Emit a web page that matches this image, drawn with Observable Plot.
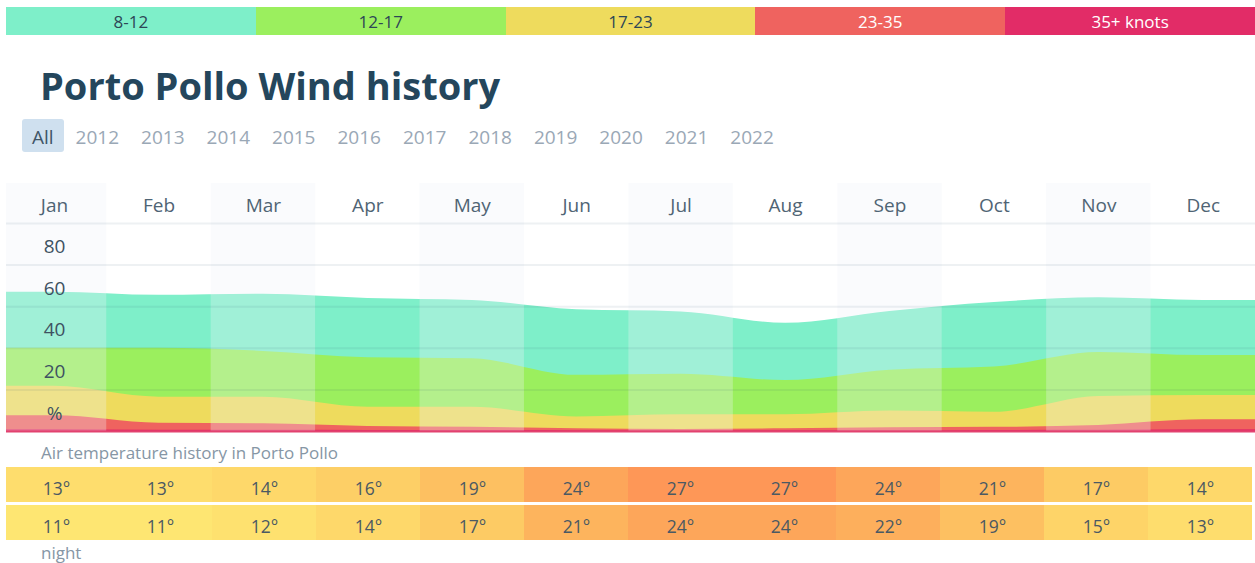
<!DOCTYPE html>
<html>
<head>
<meta charset="utf-8">
<script src="https://cdn.jsdelivr.net/npm/d3@7"></script>
<script src="https://cdn.jsdelivr.net/npm/@observablehq/plot@0.6"></script>
<style>
  body { margin: 0; background: #fff; font-family: "Open Sans", sans-serif; }
  #page { position: relative; width: 1255px; height: 563px; overflow: hidden; background: #fff; }
  #legend { position: absolute; left: 6px; top: 7px; width: 1249px; height: 28px; display: flex; overflow: hidden; }
  #legend div { flex: 1 1 0; text-align: center; line-height: 30px; font-size: 17px; }
  #title { position: absolute; left: 40px; top: 66px; font-size: 38px; line-height: 38px; font-weight: 700; color: #24465c; white-space: nowrap; }
  #years { position: absolute; left: 22px; top: 119px; height: 33px; display: flex; }
  #years div { height: 33px; line-height: 36px; padding: 0 10px; margin-right: 2px; font-size: 19px; color: #9aa8b6; border-radius: 3px; overflow: hidden; }
  #years div.on { background: #cfe0ef; color: #3f5668; }
  .clip { position: absolute; left: 6px; width: 1249px; overflow: hidden; }
  #wind { top: 183px; height: 250px; }
  #temp { top: 467px; height: 73px; }
  .note { position: absolute; left: 41px; font-size: 17px; line-height: 17px; color: #8696a5; white-space: nowrap; }
</style>
</head>
<body>
<div id="page">
  <div id="legend"></div>
  <div id="title">Porto Pollo Wind history</div>
  <div id="years"></div>
  <div class="clip" id="wind"></div>
  <div class="note" style="top:444px">Air temperature history in Porto Pollo</div>
  <div class="clip" id="temp"></div>
  <div class="note" style="top:544px">night</div>
</div>
<script>
// ---- data ----
const months = ["Jan","Feb","Mar","Apr","May","Jun","Jul","Aug","Sep","Oct","Nov","Dec"];
const bandLabels = ["8-12","12-17","17-23","23-35","35+ knots"];
const bandColors = ["#7eefc9","#9bef5e","#eedb5d","#ef635f","#e22c67"];
const bandTextColors = ["#2d4656","#2d4656","#2d4656","#ffffff","#ffffff"];
const years = ["All","2012","2013","2014","2015","2016","2017","2018","2019","2020","2021","2022"];
// cumulative % of time wind is at least the lower bound of each band
const pctAtLeast8  = [67, 65.5, 66, 64, 63, 58.5, 57.5, 52, 57.7, 62, 64.3, 63];
const pctAtLeast12 = [40, 40, 38.5, 35.5, 35, 27, 27.5, 24.5, 29.5, 31, 38, 36.5];
const pctAtLeast17 = [21.7, 16.5, 16.5, 11.7, 11.7, 7, 8, 8, 9.8, 9.3, 16.8, 17.3];
const pctAtLeast23 = [7.6, 4, 3.7, 2.4, 2, 1.3, 1, 1.3, 1.8, 2, 2.9, 5.6];
const pctAtLeast35 = [0.8, 0.6, 0.6, 0.5, 0.5, 0.4, 0.4, 0.4, 0.4, 0.5, 0.6, 0.8];
const yTicks = [80, 60, 40, 20, 0];
const yTickLabels = ["80", "60", "40", "20", "%"];
const gridValues = [20, 40, 60, 80, 100];
const tempDay   = [13, 13, 14, 16, 19, 24, 27, 27, 24, 21, 17, 14];
const tempNight = [11, 11, 12, 14, 17, 21, 24, 24, 22, 19, 15, 13];
const tempScaleDomain = [11, 14, 17, 21, 24, 27];
const tempScaleRange = ["#fee672", "#fed86a", "#fdcb64", "#fdb45d", "#fda65a", "#fe9757"];

// ---- html bits ----
const legend = document.getElementById("legend");
bandLabels.forEach((l, i) => {
  const d = document.createElement("div");
  d.textContent = l; d.style.background = bandColors[i]; d.style.color = bandTextColors[i];
  legend.appendChild(d);
});
const yr = document.getElementById("years");
years.forEach((y, i) => {
  const d = document.createElement("div");
  d.textContent = y; if (i === 0) d.className = "on";
  yr.appendChild(d);
});

// ---- wind chart ----
const bandSeries = [pctAtLeast8, pctAtLeast12, pctAtLeast17, pctAtLeast23, pctAtLeast35];
function series(arr) {
  const pts = [{x: 0, v: arr[0]}];
  arr.forEach((v, i) => pts.push({x: i + 0.5, v}));
  pts.push({x: 12, v: arr[arr.length - 1]});
  return pts;
}
const W = 1249;
const x0 = -4.2;
const oddCols = months.map((m, i) => ({i})).filter(d => d.i % 2 === 0);
const windMarks = [];
bandSeries.forEach((arr, k) => {
  windMarks.push(Plot.areaY(series(arr), {x: "x", y1: 0, y2: "v", fill: bandColors[k], curve: "monotone-x"}));
});
windMarks.push(Plot.rect(oddCols, {x1: d => d.i, x2: d => d.i + 1, fill: "#eef3f9", fillOpacity: 0.3}));
windMarks.push(Plot.ruleY(gridValues, {stroke: "#2a4a6a", strokeOpacity: 0.08, strokeWidth: 2}));
windMarks.push(Plot.ruleY([0], {stroke: "#e2426f", strokeWidth: 2}));
windMarks.push(Plot.text(months, {x: (d, i) => i + 0.5, frameAnchor: "top", lineAnchor: "middle", dy: 22, text: d => d, fill: "#4f6474", fontSize: 19}));
windMarks.push(Plot.text(yTicks, {x: () => 0.5, y: d => d, dy: -18, text: (d, i) => yTickLabels[i], fill: "#3e5262", fontSize: 19}));

const wind = Plot.plot({
  width: W, height: 250,
  marginTop: 0, marginBottom: 1, marginLeft: 0, marginRight: 0,
  style: {fontFamily: "Open Sans, sans-serif", background: "transparent"},
  x: {type: "linear", domain: [0, 12], range: [x0, W], axis: null},
  y: {type: "linear", domain: [0, 100], range: [248, 40], axis: null},
  marks: windMarks
});
document.getElementById("wind").appendChild(wind);

// ---- temperature ----
const tempData = [];
months.forEach((m, i) => tempData.push({month: m, row: "day", t: tempDay[i]}));
months.forEach((m, i) => tempData.push({month: m, row: "night", t: tempNight[i]}));
const temp = Plot.plot({
  width: W, height: 73,
  marginTop: 0, marginBottom: 0, marginLeft: 0, marginRight: 0,
  style: {fontFamily: "Open Sans, sans-serif", background: "transparent"},
  x: {type: "band", domain: months, range: [x0, W], padding: 0, axis: null},
  y: {type: "band", domain: ["day", "night"], range: [0, 73], paddingInner: 0.08, paddingOuter: 0, axis: null},
  color: {type: "linear", domain: tempScaleDomain, range: tempScaleRange},
  marks: [
    Plot.cell(tempData, {x: "month", y: "row", fill: "t", inset: 0}),
    Plot.text(tempData, {x: "month", y: "row", dy: 4, text: d => d.t + "°", fill: "#4b5963", fontSize: 17.5})
  ]
});
document.getElementById("temp").appendChild(temp);
</script>
</body>
</html>
